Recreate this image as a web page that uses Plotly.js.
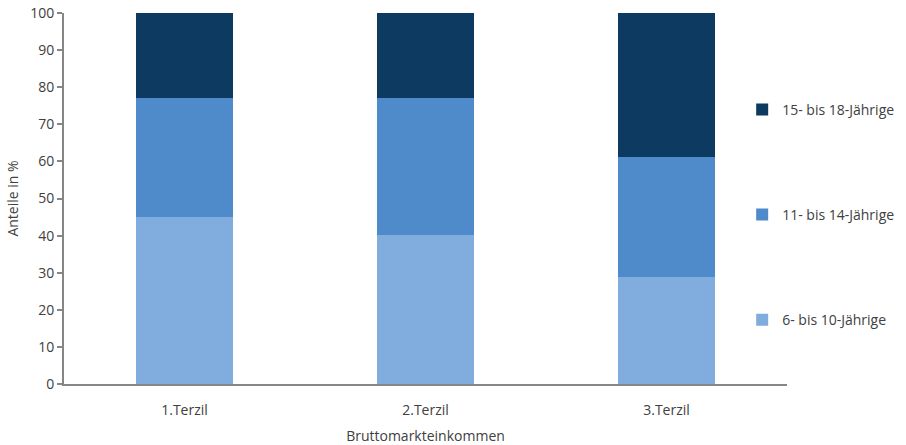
<!DOCTYPE html>
<html>
<head>
<meta charset="utf-8">
<script src="https://cdn.plot.ly/plotly-3.0.1.min.js"></script>
<style>html,body{margin:0;padding:0;background:#fff;}#chart{width:906px;height:445px;}</style>
</head>
<body>
<div id="chart"></div>
<script>
const categories = ["1.Terzil", "2.Terzil", "3.Terzil"];
const seriesNames = ["6- bis 10-Jährige", "11- bis 14-Jährige", "15- bis 18-Jährige"];
const age6to10 = [45.0, 40.2, 28.9];
const age11to14 = [32.2, 36.8, 32.4];
const age15to18 = [22.8, 23.0, 38.7];
const colors = ["#80ADDD", "#4F8ACA", "#0C3A60"];
const yTicks = [0, 10, 20, 30, 40, 50, 60, 70, 80, 90, 100];

const font = {family: "'Open Sans', sans-serif", size: 14, color: "#404040"};
const data = [age6to10, age11to14, age15to18].map((vals, i) => ({
  type: "bar",
  x: categories,
  y: vals,
  name: seriesNames[i],
  legendgroup: "g" + i,
  legendrank: 3 - i,
  marker: {color: colors[i], line: {width: 0}},
  hoverinfo: "skip"
}));

const layout = {
  width: 906, height: 445,
  margin: {l: 64, r: 119, t: 13, b: 61, autoexpand: false},
  barmode: "stack",
  bargap: 0.6,
  paper_bgcolor: "#fff", plot_bgcolor: "#fff",
  font: font,
  showlegend: true,
  legend: {
    x: 0.938, xanchor: "left", y: 0.456, yanchor: "middle",
    traceorder: "grouped",
    tracegroupgap: 84,
    itemwidth: 30,
    font: {family: font.family, size: 14, color: "#404040"}
  },
  xaxis: {
    showline: true, linecolor: "#868686", linewidth: 2,
    ticks: "", showgrid: false, zeroline: false,
    tickfont: {size: 14},
    ticklabelstandoff: 12,
    title: {text: "Bruttomarkteinkommen", font: {size: 14}, standoff: 14}
  },
  yaxis: {
    range: [0, 100],
    tickvals: yTicks,
    showline: true, linecolor: "#868686", linewidth: 2,
    ticks: "outside", ticklen: 5, tickwidth: 2, tickcolor: "#868686",
    showgrid: false, zeroline: false,
    tickfont: {size: 14},
    title: {text: "Anteile in %", font: {size: 14}, standoff: 8}
  }
};
Plotly.newPlot("chart", data, layout, {displayModeBar: false, staticPlot: true});
</script>
</body>
</html>
